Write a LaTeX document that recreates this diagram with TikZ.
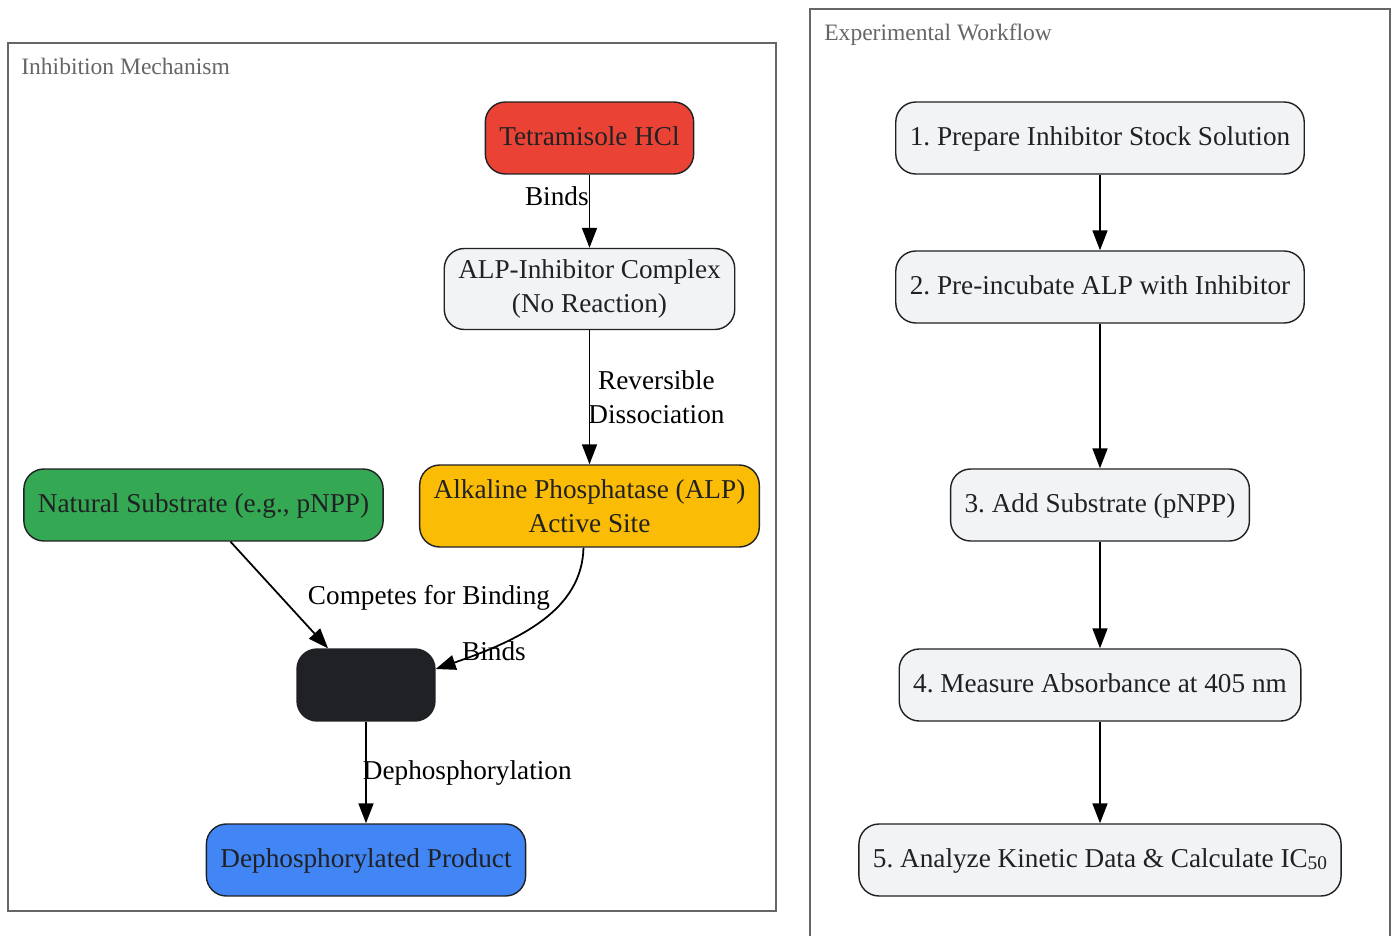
\documentclass[tikz,border=0pt]{standalone}
\usepackage{fontspec}
\setmainfont{Liberation Serif}
\usetikzlibrary{arrows.meta}
\definecolor{tetred}{HTML}{EA4335}
\definecolor{alpyellow}{HTML}{FBBC05}
\definecolor{subgreen}{HTML}{34A853}
\definecolor{prodblue}{HTML}{4285F4}
\definecolor{cplxdark}{HTML}{202124}
\definecolor{stepgray}{HTML}{F1F3F4}
\definecolor{grpgray}{HTML}{666666}
\newcommand{\nodefont}{\fontsize{15.5}{19}\selectfont}
\frenchspacing

\begin{document}
\begin{tikzpicture}[x=0.02cm, y=-0.02cm,
    box/.style = {draw=cplxdark, rounded corners=0.4cm, minimum height=#1,
                inner xsep=0.28cm, inner ysep=0pt, text=cplxdark,
                align=center, line width=0.8pt, font=\nodefont},
    box/.default = 1.44cm,  % one line of text
    oneline/.style = {text height=0.9em, text depth=0pt},
    arr/.style = {-{Triangle[length=0.4cm,width=0.3cm]}, line width=1pt},
    lbl/.style = {font=\nodefont, inner sep=0pt, align=center},
    grp/.style = {draw=grpgray, line width=0.9pt},
    grptitle/.style = {text=grpgray, anchor=west, inner sep=0pt,
                font=\fontsize{13.4}{16}\selectfont}
                    ]
        \useasboundingbox (0,0) rectangle (1394,936);
        % the two groups
        \draw[grp] (8,43) rectangle (776,911);
        \node[grptitle] at (21,66) (mechtitle) {Inhibition Mechanism};
        \draw[grp] (810,936) -- (810,9) -- (1390,9) -- (1390,936);
        \node[grptitle] at (824,35) (flowtitle) {Experimental Workflow};
        % mechanism
        \node[box, oneline, fill=tetred] at (589.5,138) (tet) {Tetramisole HCl};
        \node[box=1.62cm, fill=stepgray] at (589.5,289) (cplx) {ALP-Inhibitor Complex\\(No Reaction)};
        \node[box=1.64cm, fill=alpyellow] at (589.5,506) (alp) {Alkaline Phosphatase (ALP)\\Active Site};
        \node[box, oneline, fill=subgreen] at (203.5,505) (nat) {Natural Substrate (e.g., pNPP)};
        \node[box, fill=cplxdark, minimum width=2.76cm] at (366,685) (es) {};
        \node[box, oneline, fill=prodblue] at (366,860) (prod) {Dephosphorylated Product};
        \draw[arr] (tet) -- node[lbl, left, pos=0.3] (l1) {Binds} (cplx);
        \draw[arr] (cplx) -- node[lbl, right, pos=0.5, xshift=-0.04cm] (l2) {Reversible\\Dissociation} (alp);
        \draw[arr] ([xshift=-0.06cm]nat.south) ++(0.6cm,0) -- ([xshift=-0.76cm]es.north);
        \node[lbl] at (429,598) (l3) {Competes for Binding};
        \draw[arr] ([xshift=-0.12cm]alp.south) .. controls (582,610) and (520,640) .. ([yshift=0.32cm]es.east);
        \node[lbl] at (494,651) (l4) {Binds};
        \draw[arr] (es) -- node[lbl, right, pos=0.5, xshift=-0.08cm] (l5) {Dephosphorylation} (prod);
        % workflow
        \foreach \y/\n/\t in {138/s1/{1. Prepare Inhibitor Stock Solution},
                              287/s2/{2. Pre-incubate ALP with Inhibitor},
                              505/s3/{3. Add Substrate (pNPP)},
                              685/s4/{4. Measure Absorbance at 405 nm},
                              860/s5/{5. Analyze Kinetic Data \& Calculate IC\raisebox{-0.15ex}{\fontsize{11}{11}\selectfont 50}}}
            \node[box, oneline, fill=stepgray] at (1100,\y) (\n) {\t};
        \foreach \a/\b in {s1/s2, s2/s3, s3/s4, s4/s5}
            \draw[arr] (\a) -- (\b);
    \end{tikzpicture}
\end{document}
